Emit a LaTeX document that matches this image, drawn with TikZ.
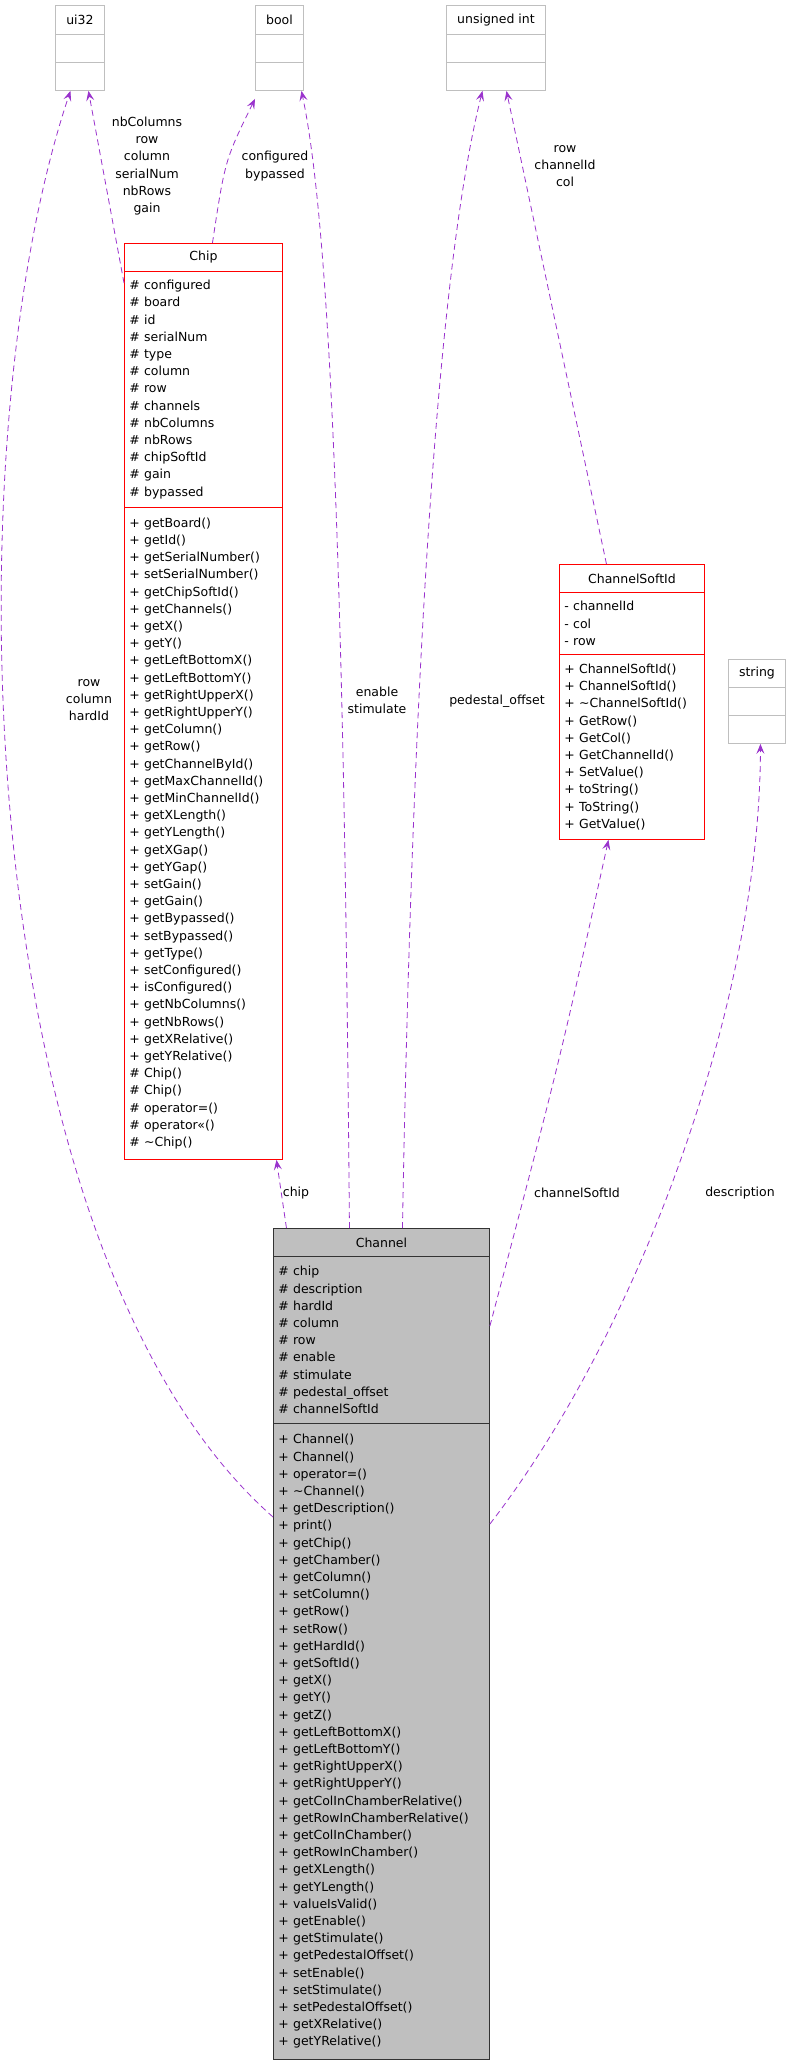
\documentclass[tikz,border=0pt]{standalone}
\usepackage{fontspec}
\setmainfont{DejaVu Sans}
\usetikzlibrary{arrows.meta}
\definecolor{depcol}{HTML}{9A32CD}
\definecolor{greyline}{HTML}{BFBFBF}
\begin{document}
\begin{tikzpicture}[
  x=1pt, y=-1pt,
  every node/.style={font=\fontsize{12.5}{17.2}\selectfont},
  part/.style={draw, rectangle, anchor=north west, inner xsep=5pt, inner ysep=0pt, align=left, line width=0.9pt},
  title/.style={part, align=center},
  plain/.style={draw=greyline},
  redbox/.style={draw=red},
  mainbox/.style={draw=black!80, fill=greyline},
  dep/.style={draw=depcol, dashed, dash pattern=on 6pt off 4pt, line width=0.8pt, -{Stealth[length=10pt, width=8pt, inset=4pt]}},
  lbl/.style={align=center, inner sep=0pt}
]
\useasboundingbox[fill=white] (0,0) rectangle (786,2064);

% simple types
\node[title, plain, minimum width=49pt, minimum height=29pt] (ui32t) at (55,5) {ui32};
\node[part, plain, minimum width=49pt, minimum height=28pt] (ui32a) at (55,34) {};
\node[part, plain, minimum width=49pt, minimum height=28pt] (ui32m) at (55,62) {};
\node[title, plain, minimum width=48pt, minimum height=29pt] (boolt) at (255,5) {bool};
\node[part, plain, minimum width=48pt, minimum height=28pt] (boola) at (255,34) {};
\node[part, plain, minimum width=48pt, minimum height=28pt] (boolm) at (255,62) {};
\node[title, plain, minimum width=99pt, minimum height=29pt] (uintt) at (446,5) {unsigned int};
\node[part, plain, minimum width=99pt, minimum height=28pt] (uinta) at (446,34) {};
\node[part, plain, minimum width=99pt, minimum height=28pt] (uintm) at (446,62) {};
\node[title, plain, minimum width=57pt, minimum height=28pt] (strt) at (728,659) {string};
\node[part, plain, minimum width=57pt, minimum height=28pt] (stra) at (728,687) {};
\node[part, plain, minimum width=57pt, minimum height=28pt] (strm) at (728,715) {};

% Chip
\node[title, redbox, minimum width=158pt, minimum height=28pt] (chipt) at (124,243) {Chip};
\node[part, redbox, minimum width=158pt, minimum height=236pt, text width=148pt] (chipa) at (124,271)
  {\# configured\\\# board\\\# id\\\# serialNum\\\# type\\\# column\\\# row\\\# channels\\\# nbColumns\\\# nbRows\\\# chipSoftId\\\# gain\\\# bypassed};
\node[part, redbox, minimum width=158pt, minimum height=652pt, text width=148pt] (chipm) at (124,507)
  {+ getBoard()\\+ getId()\\+ getSerialNumber()\\+ setSerialNumber()\\+ getChipSoftId()\\+ getChannels()\\+ getX()\\+ getY()\\+ getLeftBottomX()\\+ getLeftBottomY()\\+ getRightUpperX()\\+ getRightUpperY()\\+ getColumn()\\+ getRow()\\+ getChannelById()\\+ getMaxChannelId()\\+ getMinChannelId()\\+ getXLength()\\+ getYLength()\\+ getXGap()\\+ getYGap()\\+ setGain()\\+ getGain()\\+ getBypassed()\\+ setBypassed()\\+ getType()\\+ setConfigured()\\+ isConfigured()\\+ getNbColumns()\\+ getNbRows()\\+ getXRelative()\\+ getYRelative()\\\# Chip()\\\# Chip()\\\# operator=()\\\# operator<<()\\\# \textasciitilde Chip()};

% ChannelSoftId
\node[title, redbox, minimum width=145pt, minimum height=28pt] (csit) at (559,564) {ChannelSoftId};
\node[part, redbox, minimum width=145pt, minimum height=62pt, text width=135pt] (csia) at (559,592)
  {- channelId\\- col\\- row};
\node[part, redbox, minimum width=145pt, minimum height=185pt, text width=135pt] (csim) at (559,654)
  {+ ChannelSoftId()\\+ ChannelSoftId()\\+ \textasciitilde ChannelSoftId()\\+ GetRow()\\+ GetCol()\\+ GetChannelId()\\+ SetValue()\\+ toString()\\+ ToString()\\+ GetValue()};

% Channel
\node[title, mainbox, minimum width=216pt, minimum height=28pt] (chant) at (273,1228) {Channel};
\node[part, mainbox, minimum width=216pt, minimum height=167pt, text width=206pt] (chana) at (273,1256)
  {\# chip\\\# description\\\# hardId\\\# column\\\# row\\\# enable\\\# stimulate\\\# pedestal\_offset\\\# channelSoftId};
\node[part, mainbox, minimum width=216pt, minimum height=636pt, text width=206pt] (chanm) at (273,1423)
  {+ Channel()\\+ Channel()\\+ operator=()\\+ \textasciitilde Channel()\\+ getDescription()\\+ print()\\+ getChip()\\+ getChamber()\\+ getColumn()\\+ setColumn()\\+ getRow()\\+ setRow()\\+ getHardId()\\+ getSoftId()\\+ getX()\\+ getY()\\+ getZ()\\+ getLeftBottomX()\\+ getLeftBottomY()\\+ getRightUpperX()\\+ getRightUpperY()\\+ getColInChamberRelative()\\+ getRowInChamberRelative()\\+ getColInChamber()\\+ getRowInChamber()\\+ getXLength()\\+ getYLength()\\+ valueIsValid()\\+ getEnable()\\+ getStimulate()\\+ getPedestalOffset()\\+ setEnable()\\+ setStimulate()\\+ setPedestalOffset()\\+ getXRelative()\\+ getYRelative()};

% dependencies
\draw[dep] ([yshift=-94pt]chanm.north west) .. controls (-30,1250) and (-50,450) .. ([xshift=-9.5pt]ui32m.south);
\draw[dep] ([yshift=-12pt]chipa.north west) -- ([xshift=8.5pt]ui32m.south);
\draw[dep] ([xshift=9pt]chipt.north) .. controls (225,160) .. ([yshift=-8pt]boolm.south west);
\draw[dep] ([xshift=-32pt]chant.north) .. controls (345,700) and (335,250) .. ([xshift=22pt]boolm.south);
\draw[dep] ([xshift=21pt]chant.north) .. controls (410,800) and (430,300) .. ([xshift=-13.5pt]uintm.south);
\draw[dep] ([xshift=-25.5pt]csit.north) -- ([xshift=10.5pt]uintm.south);
\draw[dep] ([yshift=-70pt]chana.north east) .. controls (560,1060) .. ([xshift=-23.5pt]csim.south);
\draw[dep] ([yshift=-101pt]chanm.north east) .. controls (640,1330) and (760,1000) .. ([xshift=3.5pt]strm.south);
\draw[dep] ([xshift=-95pt]chant.north) -- ([xshift=73pt]chipm.south);

% labels
\node[lbl] (l1) at (147,166) {nbColumns\\row\\column\\serialNum\\nbRows\\gain};
\node[lbl] (l2) at (275,166) {configured\\bypassed};
\node[lbl] (l3) at (565,166) {row\\channelId\\col};
\node[lbl] (l4) at (89,700) {row\\column\\hardId};
\node[lbl] (l5) at (377,700) {enable\\stimulate};
\node[lbl] (l6) at (497,701) {pedestal\_offset};
\node[lbl] (l7) at (296,1193) {chip};
\node[lbl] (l8) at (577,1193) {channelSoftId};
\node[lbl] (l9) at (740,1193) {description};
\end{tikzpicture}
\end{document}
